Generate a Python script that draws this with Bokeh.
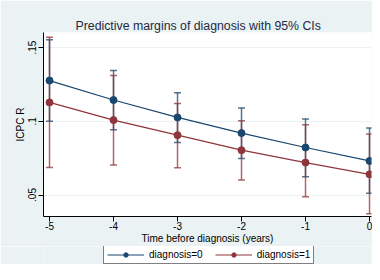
from bokeh.plotting import figure
from bokeh.models import (Range1d, FixedTicker, Whisker, TeeHead, ColumnDataSource,
                          Legend, LegendItem)
from bokeh.layouts import column
from bokeh.embed import file_html
from bokeh.resources import INLINE

years = [-5, -4, -3, -2, -1, 0]
x_tick_labels = {-5: "-5", -4: "-4", -3: "-3", -2: "-2", -1: "-1", 0: "0"}
y_ticks = [0.05, 0.1, 0.15]
y_tick_labels = {0.05: ".05", 0.1: ".1", 0.15: ".15"}
series_names = ["diagnosis=0", "diagnosis=1"]

m0 = [0.1276, 0.1144, 0.1026, 0.0920, 0.0822, 0.0731]
lo0 = [0.1000, 0.0942, 0.0856, 0.0747, 0.0624, 0.0512]
hi0 = [0.1552, 0.1344, 0.1194, 0.1090, 0.1015, 0.0954]
m1 = [0.1128, 0.1008, 0.0906, 0.0804, 0.0720, 0.0640]
lo1 = [0.0686, 0.0704, 0.0684, 0.0602, 0.0488, 0.0373]
hi1 = [0.1570, 0.1310, 0.1121, 0.1003, 0.0976, 0.0913]

BLUE = "#1a476f"
RED = "#90353b"
BG = "#eaf2f3"
FONT = "Liberation Sans"

p = figure(width=372, height=246, output_backend="svg", toolbar_location=None,
           x_range=Range1d(-5.094, 0.031), y_range=Range1d(0.03542, 0.1602),
           min_border_left=43, min_border_right=1, min_border_top=32, min_border_bottom=30)
p.background_fill_color = "white"
p.border_fill_color = BG
p.outline_line_color = None

p.title.text = "Predictive margins of diagnosis with 95% CIs"
p.title.text_font = FONT
p.title.text_font_size = "12.3px"
p.title.text_font_style = "normal"
p.title.text_color = "#1e2a44"
p.title.align = "left"
p.title.offset = 32
p.title.standoff = 0

# axes
p.xaxis.ticker = FixedTicker(ticks=years)
p.xaxis.major_label_overrides = x_tick_labels
p.yaxis.ticker = FixedTicker(ticks=y_ticks)
p.yaxis.major_label_overrides = y_tick_labels
p.yaxis.major_label_orientation = "vertical"
for ax in (p.xaxis, p.yaxis):
    ax.major_tick_out = 5
    ax.major_tick_in = 0
    ax.minor_tick_out = 0
    ax.minor_tick_in = 0
    ax.major_label_text_font = FONT
    ax.major_label_text_font_size = "10px"
    ax.major_label_text_color = "black"
    ax.axis_label_text_font = FONT
    ax.axis_label_text_font_size = "10px"
    ax.axis_label_text_font_style = "normal"
    ax.axis_label_text_color = "black"
    ax.axis_line_color = "black"
    ax.major_tick_line_color = "black"
    ax.major_label_standoff = 0
    ax.axis_label_standoff = 0
p.yaxis.major_label_standoff = 2
p.xaxis.axis_label = "Time before diagnosis (years)"
p.yaxis.axis_label = "ICPC R"

p.xgrid.grid_line_color = None
p.ygrid.grid_line_color = BG
p.ygrid.grid_line_width = 1

# CIs
src0 = ColumnDataSource(dict(x=years, lo=lo0, hi=hi0))
src1 = ColumnDataSource(dict(x=years, lo=lo1, hi=hi1))
for src, col in ((src0, BLUE), (src1, RED)):
    w = Whisker(source=src, base="x", lower="lo", upper="hi",
                line_color=col, line_alpha=0.75, line_width=1.5,
                upper_head=TeeHead(size=7, line_color=col, line_alpha=0.75, line_width=1.5),
                lower_head=TeeHead(size=7, line_color=col, line_alpha=0.75, line_width=1.5),
                level="underlay")
    p.add_layout(w)

p.line(years, m0, line_color=BLUE, line_width=1.2)
p.scatter(years, m0, size=7, fill_color=BLUE, line_color=BLUE)
p.line(years, m1, line_color=RED, line_width=1.2)
p.scatter(years, m1, size=7, fill_color=RED, line_color=RED)

# legend strip (separate figure; its series sit outside its visible range,
# so only the legend shows)
lg = figure(width=372, height=18, output_backend="svg", toolbar_location=None,
            x_axis_type=None, y_axis_type=None,
            x_range=Range1d(100, 101), y_range=Range1d(100, 101),
            min_border_left=0, min_border_right=0, min_border_top=0, min_border_bottom=0)
lg.background_fill_color = BG
lg.border_fill_color = BG
lg.outline_line_color = None
lg.grid.grid_line_color = None
items = []
for name, col, vals in zip(series_names, (BLUE, RED), (m0, m1)):
    lr = lg.line(years, vals, line_color=col, line_width=1.2)
    sr = lg.scatter(years, vals, size=7, fill_color=col, line_color=col)
    items.append(LegendItem(label=name, renderers=[lr, sr]))
legend = Legend(items=items, location=(60, 0), orientation="horizontal")
legend.label_text_font = FONT
legend.label_text_font_size = "10px"
legend.label_text_color = "black"
legend.glyph_width = 37
legend.glyph_height = 11
legend.label_height = 11
legend.label_standoff = 5
legend.spacing = 12
legend.padding = 3
legend.margin = 0
legend.border_line_color = "black"
legend.border_line_width = 1
legend.background_fill_color = "white"
legend.background_fill_alpha = 1
lg.add_layout(legend)

layout = column(p, lg, spacing=0)
open("out.html", "w").write(file_html(layout, INLINE))
